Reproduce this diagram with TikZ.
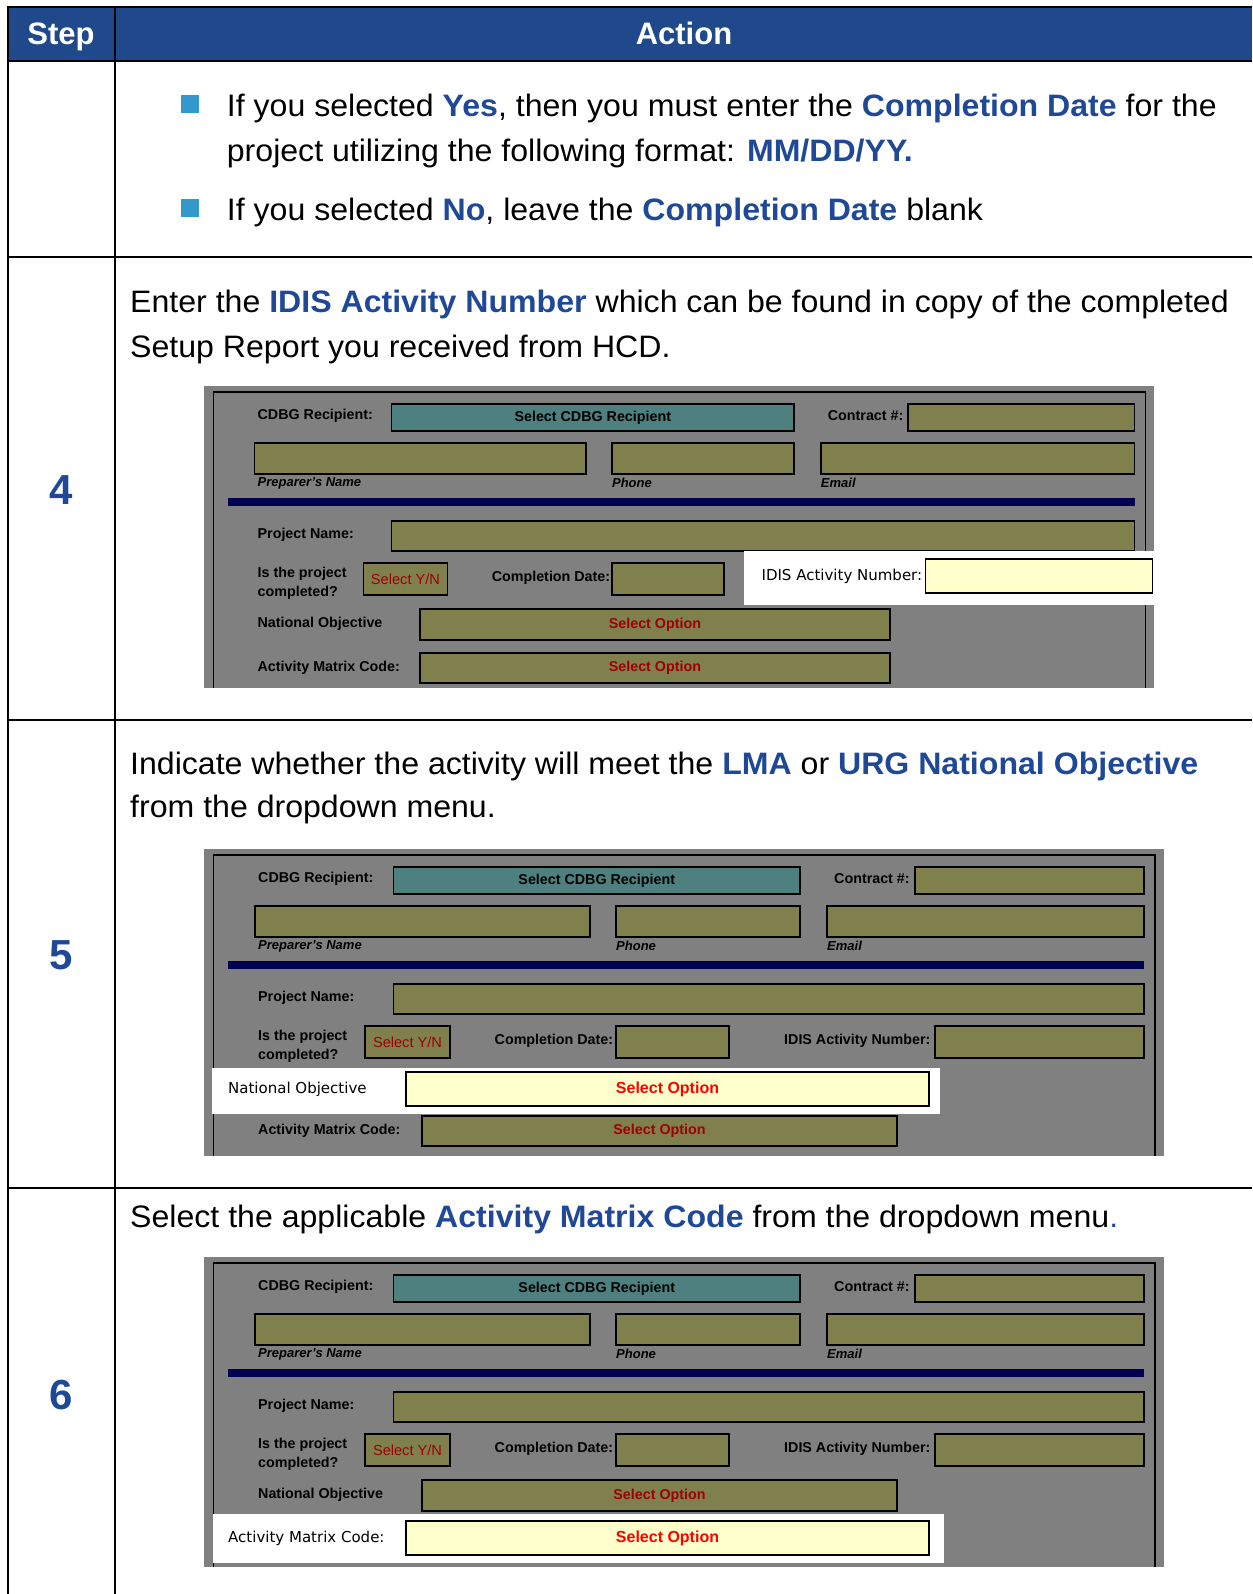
\documentclass[tikz,border=0pt]{standalone}
\usepackage{fontspec}
\setmainfont{Liberation Sans}
\newfontfamily\hlfont{DejaVu Sans}
\newfontfamily\bodyfont[FakeStretch=1.035]{Liberation Sans}
\definecolor{hdrblue}{RGB}{31,73,138}
\definecolor{txtblue}{RGB}{31,73,150}
\definecolor{bulletblue}{RGB}{51,153,204}
\definecolor{formgray}{RGB}{128,128,128}
\definecolor{olivebox}{RGB}{128,128,77}
\definecolor{tealbox}{RGB}{79,128,128}
\definecolor{navybar}{RGB}{0,0,80}
\definecolor{hlyellow}{RGB}{255,255,204}
\definecolor{darkred}{RGB}{160,0,0}
\definecolor{brightred}{RGB}{255,0,0}
\tikzset{
  tline/.style={line width=2.5pt, black},
  bodytext/.style={anchor=base west, inner sep=0pt, font=\bodyfont\fontsize{31}{36}\selectfont},
  stepnum/.style={inner sep=0pt, text=txtblue, font=\fontsize{42}{48}\selectfont\bfseries},
  hdrtext/.style={anchor=base, inner sep=0pt, text=white, font=\fontsize{31}{36}\selectfont\bfseries},
  bulletsq/.style={fill=bulletblue, draw=none},
  frameline/.style={line width=1.6pt, black},
  obox/.style={fill=olivebox, draw=black, line width=1.5pt},
  tbox/.style={fill=tealbox, draw=black, line width=1.5pt},
  ybox/.style={fill=hlyellow, draw=black, line width=1.5pt},
  flbl/.style={anchor=west, inner sep=0pt, font=\fontsize{14.3}{16}\selectfont\bfseries},
  fsub/.style={anchor=west, inner sep=0pt, font=\fontsize{13}{15}\selectfont\bfseries\itshape},
  hlbl/.style={anchor=west, inner sep=0pt, font=\hlfont\fontsize{15}{17}\selectfont},
  selopt/.style={inner sep=0pt, text=darkred, font=\fontsize{14.3}{16}\selectfont\bfseries},
  selhl/.style={inner sep=0pt, text=brightred, font=\fontsize{16}{18}\selectfont\bfseries},
}
\newcommand{\bl}[1]{\textcolor{txtblue}{\bfseries #1}}
% #1 prefix, #2 x0, #3 y0, #4 xscale, #5 height, #6 mode (1 IDIS, 2 NatObj, 3 Matrix)
\newcommand{\formshot}[6]{%
\begin{scope}[shift={(#2,#3)}, xscale=#4]
  \fill[formgray] (0,0) rectangle (960,#5);
  \draw[frameline] (9.5,#5) -- (9.5,6) -- (951,6) -- (951,#5);
  % row 1
  \node[flbl] (#1-cdbg) at (54,30) {CDBG Recipient:};
  \draw[tbox] (189.5,18) rectangle (596,45);
  \node[inner sep=0pt, font=\fontsize{14.3}{16}\selectfont\bfseries] (#1-sel) at (392.75,31.5) {Select CDBG Recipient};
  \node[flbl] (#1-contract) at (630,30) {Contract \#:};
  \draw[obox] (711,18) rectangle (940,45);
  % row 2
  \draw[obox] (51,57) rectangle (386,88);
  \draw[obox] (412,57) rectangle (596,88);
  \draw[obox] (623,57) rectangle (940,88);
  \node[fsub] (#1-prep) at (54,97) {Preparer's Name};
  \node[fsub] (#1-phone) at (412,97) {Phone};
  \node[fsub] (#1-email) at (623,97) {Email};
  \fill[navybar] (24,112) rectangle (940,120);
  % project
  \node[flbl] (#1-proj) at (54,149) {Project Name:};
  \draw[obox] (189.5,135) rectangle (940,165);
  \node[flbl] (#1-isthe) at (54,188) {Is the project};
  \node[flbl] (#1-compl) at (54,207) {completed?};
  \draw[obox] (161,177) rectangle (246,209);
  \node[inner sep=0pt, text=darkred, font=\fontsize{14.6}{16}\selectfont] (#1-yn) at (203.5,193) {Select Y/N};
  \node[flbl] (#1-cdate) at (290.5,192) {Completion Date:};
  \draw[obox] (412,177) rectangle (525,209);
  \ifnum#6=1
    \fill[white] (545,165) rectangle (975,219);
    \draw[ybox] (729,173) rectangle (958,207);
    \node[hlbl] (#1-idis) at (563,190) {IDIS Activity Number:};
  \else
    \node[flbl] (#1-idis) at (580,192) {IDIS Activity Number:};
    \draw[obox] (731,177) rectangle (940,209);
  \fi
  \ifnum#6=2
    \fill[white] (8,219) rectangle (736,265);
    \draw[ybox] (202,223) rectangle (725,257);
    \node[hlbl] (#1-nat) at (24,240) {National Objective};
    \node[selhl] (#1-natsel) at (463.5,240) {Select Option};
  \else
    \node[flbl] (#1-nat) at (54,238) {National Objective};
    \draw[obox] (218,223) rectangle (693,254);
    \node[selopt] (#1-natsel) at (455.5,238.5) {Select Option};
  \fi
  \ifnum#6=3
    \fill[white] (9,257) rectangle (740,306);
    \draw[ybox] (202,264) rectangle (725,298);
    \node[hlbl] (#1-amc) at (24,281) {Activity Matrix Code:};
    \node[selhl] (#1-amcsel) at (463.5,281) {Select Option};
  \else
    \node[flbl] (#1-amc) at (54,282) {Activity Matrix Code:};
    \draw[obox] (218,267) rectangle (693,297);
    \node[selopt] (#1-amcsel) at (455.5,282) {Select Option};
  \fi
\end{scope}}
\begin{document}
\begin{tikzpicture}[x=1pt, y=-1pt]
\useasboundingbox (0,0) rectangle (1252,1594);
\fill[white] (0,0) rectangle (1252,1594);
% header
\fill[hdrblue] (8,7) rectangle (1252,61);
\node[hdrtext] (hstep) at (61,45) {Step};
\node[hdrtext] (haction) at (684,45) {Action};
% table lines
\draw[tline] (8,7) -- (1252,7);
\draw[tline] (8,61) -- (1252,61);
\draw[tline] (8,257) -- (1252,257);
\draw[tline] (8,720) -- (1252,720);
\draw[tline] (8,1188) -- (1252,1188);
\draw[tline] (8,5.75) -- (8,1594);
\draw[tline] (115,5.75) -- (115,1594);
% row 1 (continued step)
\fill[bulletsq] (180.5,95.5) rectangle (198.5,113.5);
\fill[bulletsq] (180.5,199) rectangle (198.5,217);
\node[bodytext] (r1a) at (226.7,117) {If you selected \bl{Yes}, then you must enter the \bl{Completion Date} for the};
\node[bodytext] (r1b) at (226.7,161.5) {project utilizing the following format: \bl{MM/DD/YY.}};
\node[bodytext] (r1c) at (226.7,220.6) {If you selected \bl{No}, leave the \bl{Completion Date} blank};
% row 4
\node[stepnum] (s4) at (61,490) {4};
\node[bodytext] (r4a) at (130,312.7) {Enter the \bl{IDIS Activity Number} which can be found in copy of the completed};
\node[bodytext] (r4b) at (130,357.3) {Setup Report you received from HCD.};
\formshot{fa}{204}{386}{0.99}{302}{1}
% row 5
\node[stepnum] (s5) at (61,955) {5};
\node[bodytext] (r5a) at (130,774) {Indicate whether the activity will meet the \bl{LMA} or \bl{URG National Objective}};
\node[bodytext] (r5b) at (130,817.7) {from the dropdown menu.};
\formshot{fb}{204}{849}{1}{307}{2}
% row 6
\node[stepnum] (s6) at (61,1395) {6};
\node[bodytext] (r6a) at (130,1227.3) {Select the applicable \bl{Activity Matrix Code} from the dropdown menu\textcolor{txtblue}{.}};
\formshot{fc}{204}{1257}{1}{310}{3}
\end{tikzpicture}
\end{document}
